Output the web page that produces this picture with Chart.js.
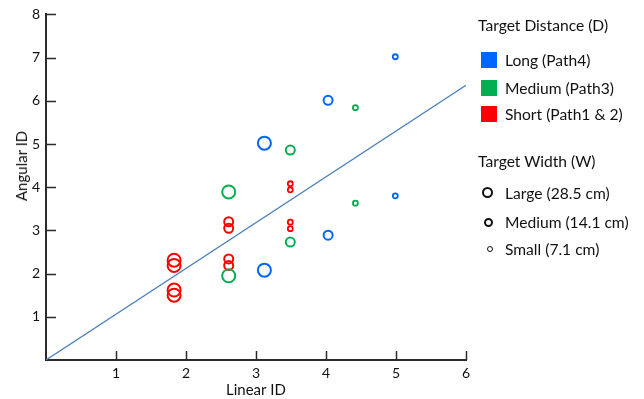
<!DOCTYPE html>
<html>
<head>
<meta charset="utf-8">
<script src="https://cdn.jsdelivr.net/npm/chart.js@4"></script>
<style>
  html, body { margin: 0; padding: 0; background: #fff; }
  #wrap { position: relative; width: 644px; height: 399px; font-family: Lato, "Open Sans", sans-serif; color: #111; }
  #chartBox { position: absolute; left: 0; top: 0; width: 480px; height: 399px; }
  #yTitle { position: absolute; left: 21px; top: 166px; transform: translate(-50%, -50%) rotate(-90deg); font-size: 15px; white-space: nowrap; }
  .row { position: absolute; height: 20px; line-height: 20px; font-size: 15.6px; white-space: nowrap; }
  .sq { position: absolute; left: 481px; width: 16px; height: 16px; }
  .dot { position: absolute; border: 2px solid #111; border-radius: 50%; box-sizing: border-box; }
</style>
</head>
<body>
<div id="wrap">
  <div id="chartBox"><canvas id="chart" width="480" height="399"></canvas></div>
  <div id="yTitle">Angular ID</div>

  <div class="row" style="left:478px; top:15px;">Target Distance (D)</div>
  <div class="sq" style="top:52px; background:#0066ff;"></div>
  <div class="row" style="left:505px; top:50px;">Long (Path4)</div>
  <div class="sq" style="top:80px; background:#00b050;"></div>
  <div class="row" style="left:505px; top:78px;">Medium (Path3)</div>
  <div class="sq" style="top:106px; background:#ff0000;"></div>
  <div class="row" style="left:505px; top:104px;">Short (Path1 &amp; 2)</div>

  <div class="row" style="left:478px; top:151px;">Target Width (W)</div>
  <div class="dot" style="left:482px; top:187px; width:11px; height:11px;"></div>
  <div class="row" style="left:505px; top:183px;">Large (28.5 cm)</div>
  <div class="dot" style="left:484px; top:218px; width:9px; height:9px;"></div>
  <div class="row" style="left:505px; top:212px;">Medium (14.1 cm)</div>
  <div class="dot" style="left:487px; top:246px; width:6px; height:6px; border-width:1.8px;"></div>
  <div class="row" style="left:505px; top:239px;">Small (7.1 cm)</div>
</div>

<script>
// =========================
// Data
// =========================

const xTicks = [1, 2, 3, 4, 5, 6];
const yTicks = [1, 2, 3, 4, 5, 6, 7, 8];

// Long (Path4)
const longX = [3.12, 3.12, 4.03, 4.03, 4.99, 4.99];
const longY = [5.02, 2.08, 6.01, 2.89, 7.02, 3.80];
const longW = [28.5, 28.5, 14.1, 14.1, 7.1, 7.1];

// Medium (Path3)
const mediumX = [2.61, 2.61, 3.49, 3.49, 4.42, 4.42];
const mediumY = [3.89, 1.95, 4.86, 2.73, 5.84, 3.63];
const mediumW = [28.5, 28.5, 14.1, 14.1, 7.1, 7.1];

// Short (Path1 & 2)
const shortX = [1.83, 1.83, 1.83, 1.83, 2.61, 2.61, 2.61, 2.61, 3.49, 3.49, 3.49, 3.49];
const shortY = [2.31, 2.19, 1.62, 1.50, 3.20, 3.05, 2.34, 2.19, 4.08, 3.94, 3.19, 3.04];
const shortW = [28.5, 28.5, 28.5, 28.5, 14.1, 14.1, 14.1, 14.1, 7.1, 7.1, 7.1, 7.1];

// fit line
const fitX = [0, 6];
const fitY = [0, 6.36];

// =========================
// Helpers
// =========================

const AXIS_COLOR = "#2b2b2b";
const radiusFor = w => w > 20 ? 6.5 : (w > 10 ? 4.5 : 2.5);
const borderFor = w => w > 10 ? 2 : 1.8;

function pts(xs, ys) {
    return xs.map((x, i) => ({ x: x, y: ys[i] }));
}

function circleSet(label, xs, ys, ws, color) {
    return {
        label: label,
        data: pts(xs, ys),
        borderColor: color,
        backgroundColor: "transparent",
        pointRadius: ws.map(radiusFor),
        pointBorderWidth: ws.map(borderFor),
        pointHoverRadius: ws.map(radiusFor)
    };
}

// inward tick marks, like the original
const innerTicks = {
    id: "innerTicks",
    afterDraw(chart) {
        const { ctx, chartArea, scales: { x, y } } = chart;
        ctx.save();
        ctx.strokeStyle = AXIS_COLOR;
        ctx.lineWidth = 1.5;
        ctx.beginPath();
        x.ticks.forEach(t => {
            const px = Math.round(x.getPixelForValue(t.value)) + 0.5;
            ctx.moveTo(px, chartArea.bottom);
            ctx.lineTo(px, chartArea.bottom - 9);
        });
        y.ticks.forEach(t => {
            const py = Math.round(y.getPixelForValue(t.value)) + 0.5;
            ctx.moveTo(chartArea.left, py);
            ctx.lineTo(chartArea.left + 10, py);
        });
        ctx.stroke();
        ctx.restore();
    }
};

// =========================
// Chart
// =========================

Chart.defaults.font.family = "Lato, 'Open Sans', sans-serif";
Chart.defaults.font.size = 14;
Chart.defaults.color = "#111";

new Chart(document.getElementById("chart"), {
    type: "scatter",
    data: {
        datasets: [
            {
                label: "fit",
                data: pts(fitX, fitY),
                showLine: true,
                borderColor: "#4a7ebb",
                borderWidth: 1.3,
                pointRadius: 0,
                pointHoverRadius: 0
            },
            circleSet("Long (Path4)", longX, longY, longW, "#0066ff"),
            circleSet("Medium (Path3)", mediumX, mediumY, mediumW, "#00b050"),
            circleSet("Short (Path1 & 2)", shortX, shortY, shortW, "#ff0000")
        ]
    },
    options: {
        responsive: false,
        animation: false,
        devicePixelRatio: 1,
        layout: { padding: { top: 14, right: 14, left: 0, bottom: 0 } },
        plugins: { legend: { display: false }, tooltip: { enabled: false } },
        scales: {
            x: {
                type: "linear",
                min: 0,
                max: 6,
                afterBuildTicks: s => { s.ticks = xTicks.map(v => ({ value: v })); },
                afterFit: s => { s.height = 39; },
                ticks: { padding: 5, font: { size: 14 } },
                grid: { display: false, drawTicks: false },
                border: { display: true, color: AXIS_COLOR, width: 2 },
                title: { display: true, text: "Linear ID", font: { size: 15 }, padding: { top: 0, bottom: 0 } }
            },
            y: {
                type: "linear",
                min: 0,
                max: 8,
                afterBuildTicks: s => { s.ticks = yTicks.map(v => ({ value: v })); },
                afterFit: s => { s.width = 46; },
                ticks: { padding: 6, font: { size: 14 } },
                grid: { display: false, drawTicks: false },
                border: { display: true, color: AXIS_COLOR, width: 2 }
            }
        }
    },
    plugins: [innerTicks]
});
</script>
</body>
</html>
